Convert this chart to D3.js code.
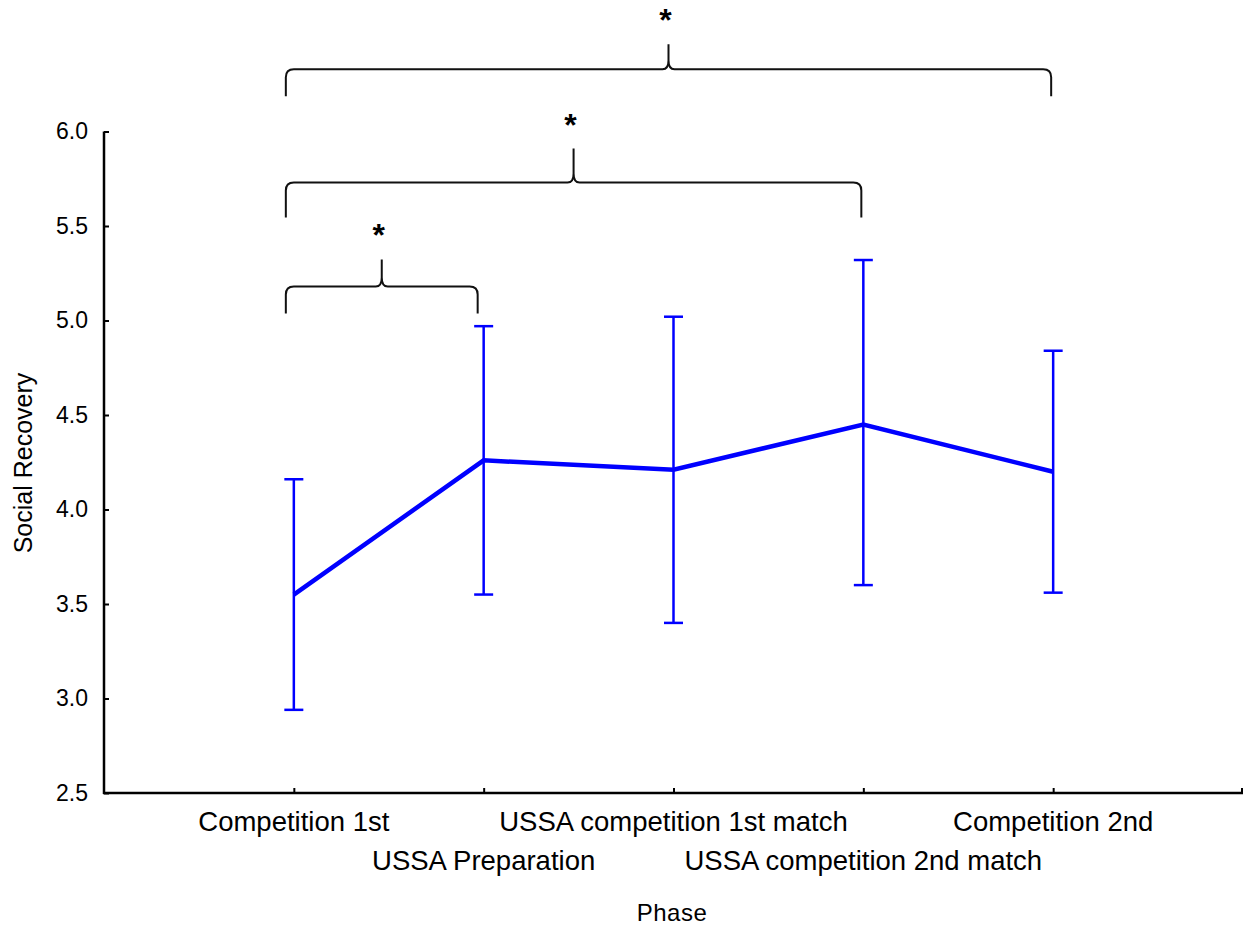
<!DOCTYPE html>
<html>
<head>
<meta charset="utf-8">
<script src="https://cdn.jsdelivr.net/npm/d3@7"></script>
<style>
  body { margin: 0; background: #fff; }
  svg { display: block; font-family: "Liberation Sans", Arial, sans-serif; }
</style>
</head>
<body>
<svg id="chart" width="1247" height="929"></svg>
<script>
// categories (two label rows alternate under the axis)
const phases = [
    'Competition 1st',
    'USSA Preparation',
    'USSA competition 1st match',
    'USSA competition 2nd match',
    'Competition 2nd'
];
const means = [3.55, 4.26, 4.21, 4.45, 4.20];
const lower = [2.94, 3.55, 3.40, 3.60, 3.56];
const upper = [4.16, 4.97, 5.02, 5.32, 4.84];
const yTicks = [2.5, 3.0, 3.5, 4.0, 4.5, 5.0, 5.5, 6.0];

// significance braces: from / to phase index, level in y units
const braceFrom = [0, 0, 0];
const braceTo = [4, 3, 1];
const braceLevel = [6.33, 5.73, 5.18];
const braceLabel = ['*', '*', '*'];

const svg = d3.select('#chart');

const x = d3.scalePoint()
    .domain(phases)
    .range([104, 1243])
    .padding(1);

const y = d3.scaleLinear()
    .domain([2.5, 6.0])
    .range([793, 131.5]);

// y axis
const yAxis = svg.append('g')
    .attr('transform', 'translate(104,0)')
    .call(d3.axisRight(y).tickValues(yTicks).tickSize(5).tickFormat(d3.format('.1f')));
yAxis.select('.domain').remove();
yAxis.selectAll('line').attr('stroke', '#000').attr('stroke-width', 2);
yAxis.selectAll('text')
    .attr('x', -16)
    .attr('text-anchor', 'end')
    .attr('font-size', 23)
    .attr('fill', '#000');
svg.append('line')
    .attr('x1', 104).attr('x2', 104)
    .attr('y1', y(6.0)).attr('y2', y(2.5) + 1)
    .attr('stroke', '#000').attr('stroke-width', 2.5);

// x axis
const xAxis = svg.append('g')
    .attr('transform', `translate(0,${y(2.5)})`)
    .call(d3.axisTop(x).tickSize(5).tickFormat(''));
xAxis.select('.domain').remove();
xAxis.selectAll('line').attr('stroke', '#000').attr('stroke-width', 2);
svg.append('line')
    .attr('x1', 103).attr('x2', 1243)
    .attr('y1', y(2.5)).attr('y2', y(2.5))
    .attr('stroke', '#000').attr('stroke-width', 2.5);
svg.append('line')
    .attr('x1', 1242).attr('x2', 1242)
    .attr('y1', y(2.5)).attr('y2', y(2.5) - 5)
    .attr('stroke', '#000').attr('stroke-width', 2);

svg.append('g')
    .selectAll('text')
    .data(phases)
    .enter().append('text')
    .attr('x', d => x(d))
    .attr('y', (d, i) => i % 2 === 0 ? 831 : 870)
    .attr('text-anchor', 'middle')
    .attr('font-size', 27.5)
    .attr('fill', '#000')
    .text(d => d);

// axis titles
svg.append('text')
    .attr('transform', 'translate(32,463) rotate(-90)')
    .attr('text-anchor', 'middle')
    .attr('font-size', 25)
    .text('Social Recovery');

svg.append('text')
    .attr('x', 672)
    .attr('y', 921)
    .attr('text-anchor', 'middle')
    .attr('font-size', 24)
    .attr('letter-spacing', 0.5)
    .text('Phase');

// error bars
const bars = svg.append('g')
    .attr('stroke', '#0000ff')
    .attr('stroke-width', 2.5);

phases.forEach((p, i) => {
    const cx = x(p);
    bars.append('line')
        .attr('x1', cx).attr('x2', cx)
        .attr('y1', y(lower[i])).attr('y2', y(upper[i]));
    bars.append('line')
        .attr('x1', cx - 9.5).attr('x2', cx + 9.5)
        .attr('y1', y(lower[i])).attr('y2', y(lower[i]));
    bars.append('line')
        .attr('x1', cx - 9.5).attr('x2', cx + 9.5)
        .attr('y1', y(upper[i])).attr('y2', y(upper[i]));
});

// mean line
const line = d3.line()
    .x((d, i) => x(phases[i]))
    .y(d => y(d));

svg.append('path')
    .datum(means)
    .attr('d', line)
    .attr('fill', 'none')
    .attr('stroke', '#0000ff')
    .attr('stroke-width', 4.5)
    .attr('stroke-linejoin', 'miter');

// braces
const braceDrop = [27, 35, 27];
const braceRise = [25, 34, 27];
const g = svg.append('g')
    .attr('fill', 'none')
    .attr('stroke', '#111')
    .attr('stroke-width', 2);

braceLevel.forEach((lvl, i) => {
    const x0 = x(phases[braceFrom[i]]) - 8;
    const x1 = x(phases[braceTo[i]]) - 2 - (braceTo[i] === 1 ? 4 : 0);
    const xm = (x0 + x1) / 2;
    const yh = y(lvl);
    const yb = yh + braceDrop[i];
    const yt = yh - braceRise[i];
    const r = 8;
    const path = d3.path();
    path.moveTo(x0, yb);
    path.lineTo(x0, yh + r);
    path.quadraticCurveTo(x0, yh, x0 + r, yh);
    path.lineTo(xm - 6, yh);
    path.quadraticCurveTo(xm, yh, xm, yh - 9);
    path.lineTo(xm, yt);
    path.moveTo(xm, yh - 9);
    path.quadraticCurveTo(xm, yh, xm + 6, yh);
    path.lineTo(x1 - r, yh);
    path.quadraticCurveTo(x1, yh, x1, yh + r);
    path.lineTo(x1, yb);
    g.append('path').attr('d', path.toString());

    svg.append('text')
        .attr('x', xm - 3)
        .attr('y', yt - 13)
        .attr('text-anchor', 'middle')
        .attr('font-size', 32)
        .attr('font-weight', 'bold')
        .text(braceLabel[i]);
});
</script>
</body>
</html>
